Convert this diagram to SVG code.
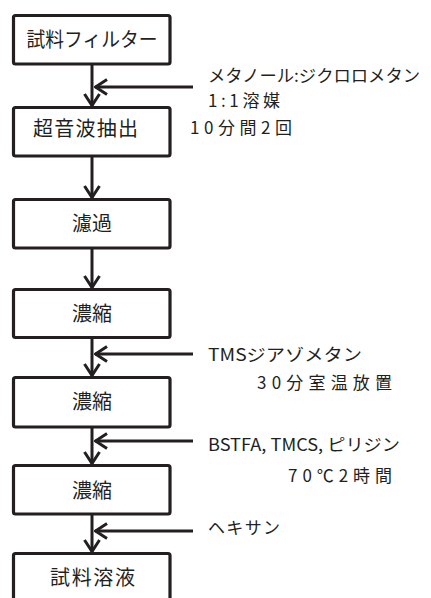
<svg xmlns="http://www.w3.org/2000/svg" width="431" height="598" viewBox="0 0 431 598">
<style>
.box{fill:#fff;stroke:#231f20;stroke-width:3.2}
.ln{stroke:#231f20;stroke-width:3;fill:none}
.bt{font-family:"Noto Sans CJK JP","Noto Sans",sans-serif;font-size:20px;fill:#231f20;text-anchor:middle}
.st{font-family:"Noto Sans CJK JP","Noto Sans",sans-serif;font-size:17px;fill:#231f20}
</style>
<defs>
<marker id="ah" viewBox="0 0 14 18" refX="13" refY="9" markerWidth="14" markerHeight="18" markerUnits="userSpaceOnUse" orient="auto">
<path d="M1,1.5 L12.5,9 L1,16.5" fill="none" stroke="#231f20" stroke-width="3"/>
</marker>
</defs>
<rect width="431" height="598" fill="#fff"/>
<g id="connectors">
<line class="ln" x1="92" y1="64" x2="92" y2="106" marker-end="url(#ah)"/>
<line class="ln" x1="193" y1="87" x2="95" y2="87" marker-end="url(#ah)"/>
<line class="ln" x1="92" y1="156" x2="92" y2="198" marker-end="url(#ah)"/>
<line class="ln" x1="92" y1="248" x2="92" y2="288" marker-end="url(#ah)"/>
<line class="ln" x1="92" y1="337" x2="92" y2="376" marker-end="url(#ah)"/>
<line class="ln" x1="193" y1="354" x2="95" y2="354" marker-end="url(#ah)"/>
<line class="ln" x1="92" y1="427" x2="92" y2="464" marker-end="url(#ah)"/>
<line class="ln" x1="193" y1="441" x2="95" y2="441" marker-end="url(#ah)"/>
<line class="ln" x1="92" y1="514" x2="92" y2="552" marker-end="url(#ah)"/>
<line class="ln" x1="193" y1="531" x2="95" y2="531" marker-end="url(#ah)"/>
</g>
<g id="n1"><rect class="box" x="13.5" y="15.5" width="156.5" height="48.5" rx="2"/><text class="bt" x="92" y="47" textLength="131" lengthAdjust="spacingAndGlyphs">試料フィルター</text></g>
<g id="n2"><rect class="box" x="13.5" y="107.5" width="156.5" height="48.5" rx="2"/><text class="bt" x="85.5" y="136" textLength="105" lengthAdjust="spacing">超音波抽出</text></g>
<g id="n3"><rect class="box" x="13.5" y="199.5" width="156.5" height="48.5" rx="2"/><text class="bt" x="92" y="231">濾過</text></g>
<g id="n4"><rect class="box" x="13.5" y="289.5" width="156.5" height="48" rx="2"/><text class="bt" x="92" y="321">濃縮</text></g>
<g id="n5"><rect class="box" x="13.5" y="377.5" width="156.5" height="49.5" rx="2"/><text class="bt" x="92" y="409">濃縮</text></g>
<g id="n6"><rect class="box" x="13.5" y="465.5" width="156.5" height="48.5" rx="2"/><text class="bt" x="92" y="498">濃縮</text></g>
<g id="n7"><rect class="box" x="13.5" y="553.5" width="156.5" height="60" rx="2"/><text class="bt" x="92.5" y="585" textLength="85" lengthAdjust="spacing">試料溶液</text></g>
<g id="labels">
<text class="st" x="208" y="82" textLength="212" lengthAdjust="spacingAndGlyphs">メタノール:ジクロロメタン</text>
<text class="st" x="208" y="107" textLength="72" lengthAdjust="spacing">1:1溶媒</text>
<text class="st" x="190" y="134" textLength="102" lengthAdjust="spacing">10分間2回</text>
<text class="st" x="208" y="361" textLength="154" lengthAdjust="spacingAndGlyphs">TMSジアゾメタン</text>
<text class="st" x="257" y="389" textLength="135" lengthAdjust="spacing">30分室温放置</text>
<text class="st" x="208" y="451" textLength="192" lengthAdjust="spacingAndGlyphs">BSTFA, TMCS, ピリジン</text>
<text class="st" x="288" y="482" textLength="104" lengthAdjust="spacing">70℃2時間</text>
<text class="st" x="208" y="534" textLength="72" lengthAdjust="spacing">ヘキサン</text>
</g>
</svg>
